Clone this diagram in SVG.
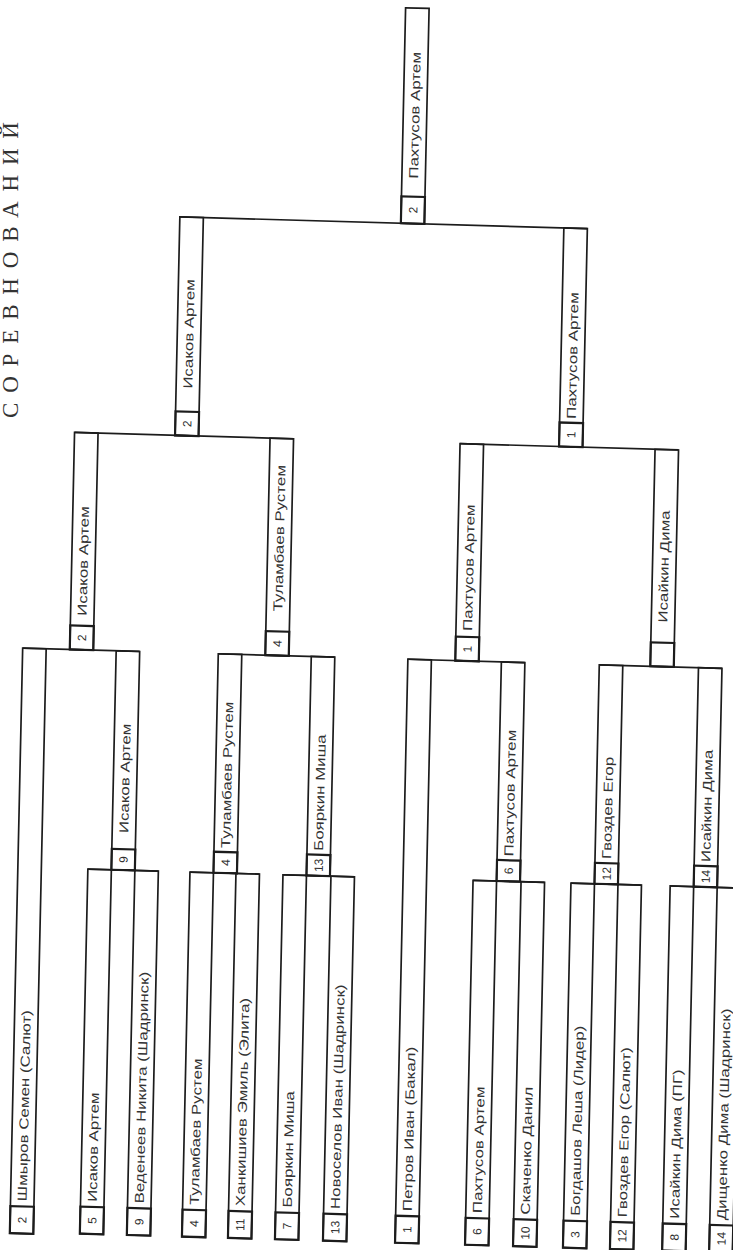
<svg xmlns="http://www.w3.org/2000/svg" width="733" height="1250" viewBox="0 0 733 1250">
<style>
.b{fill:none;stroke:#1c1c1c;stroke-width:1.7}
.c{fill:none;stroke:#1c1c1c;stroke-width:2.2}
.l{stroke:#1c1c1c;stroke-width:1.7;fill:none}
.t{font-family:"Liberation Sans",Arial,sans-serif;font-size:13px;fill:#333}
.n{font-family:"Liberation Sans",Arial,sans-serif;font-size:12px;fill:#2e2e2e;text-anchor:middle}
.h{font-family:"Liberation Serif","Times New Roman",serif;font-size:23px;fill:#333}
</style>
<rect width="733" height="1250" fill="#fff"/>
<text class="h" transform="translate(18,418) rotate(-90)" textLength="296" lengthAdjust="spacing">СОРЕВНОВАНИЙ</text>
<g transform="matrix(1,0.029,-0.022,1,13.75,-10.6)">
<g id="connectors">
<line class="l" x1="171" y1="222.5" x2="578.5" y2="222.5"/>
<line class="l" x1="70.5" y1="441" x2="289.5" y2="441"/>
<line class="l" x1="456" y1="441" x2="674.5" y2="441"/>
<line class="l" x1="23.4" y1="658" x2="140.4" y2="658"/>
<line class="l" x1="219" y1="658" x2="335.5" y2="658"/>
<line class="l" x1="408.6" y1="658" x2="525.6" y2="658"/>
<line class="l" x1="600" y1="658" x2="722.7" y2="658"/>
<line class="l" x1="93.4" y1="877" x2="163.9" y2="877"/>
<line class="l" x1="195.5" y1="877" x2="265" y2="877"/>
<line class="l" x1="288.5" y1="877" x2="360" y2="877"/>
<line class="l" x1="478.6" y1="877" x2="550.1" y2="877"/>
<line class="l" x1="576.5" y1="877" x2="647" y2="877"/>
<line class="l" x1="675.7" y1="877" x2="745.5" y2="877"/>
</g>
<g id="final">
<rect class="b" x="392" y="7" width="23.5" height="215.5"/>
<rect class="c" x="392" y="195.5" width="23.5" height="27"/>
<text class="n" transform="translate(408.1,209) rotate(-90)">2</text>
<text class="t" transform="translate(408.1,177.5) rotate(-90) scale(1.3,1)">Пахтусов Артем</text>
</g>
<g id="r4-isakov">
<rect class="b" x="171" y="222.5" width="23.5" height="218.5"/>
<rect class="c" x="171" y="417" width="23.5" height="24"/>
<text class="n" transform="translate(187.1,429) rotate(-90)">2</text>
<text class="t" transform="translate(187.1,394) rotate(-90) scale(1.3,1)">Исаков Артем</text>
</g>
<g id="r4-pakhtusov">
<rect class="b" x="555" y="222.5" width="23.5" height="218.5"/>
<rect class="c" x="555" y="417" width="23.5" height="24"/>
<text class="n" transform="translate(571.1,429) rotate(-90)">1</text>
<text class="t" transform="translate(571.1,413) rotate(-90) scale(1.3,1)">Пахтусов Артем</text>
</g>
<g id="r3-isakov">
<rect class="b" x="70.5" y="441" width="23.5" height="217"/>
<rect class="c" x="70.5" y="634" width="23.5" height="24"/>
<text class="n" transform="translate(86.6,646) rotate(-90)">2</text>
<text class="t" transform="translate(86.6,624) rotate(-90) scale(1.3,1)">Исаков Артем</text>
</g>
<g id="r3-tulambaev">
<rect class="b" x="266" y="441" width="23.5" height="217"/>
<rect class="c" x="266" y="634" width="23.5" height="24"/>
<text class="n" transform="translate(282.1,646) rotate(-90)">4</text>
<text class="t" transform="translate(282.1,614) rotate(-90) scale(1.3,1)">Туламбаев Рустем</text>
</g>
<g id="r3-pakhtusov">
<rect class="b" x="456" y="441" width="23.5" height="217"/>
<rect class="c" x="456" y="634" width="23.5" height="24"/>
<text class="n" transform="translate(472.1,646) rotate(-90)">1</text>
<text class="t" transform="translate(472.1,628) rotate(-90) scale(1.3,1)">Пахтусов Артем</text>
</g>
<g id="r3-isaykin">
<rect class="b" x="651" y="441" width="23.5" height="217"/>
<rect class="c" x="651" y="634" width="23.5" height="24"/>
<text class="t" transform="translate(667.1,614) rotate(-90) scale(1.3,1)">Исайкин Дима</text>
</g>
<g id="r2-isakov">
<rect class="b" x="116.9" y="658" width="23.5" height="219"/>
<rect class="c" x="116.9" y="856" width="23.5" height="21"/>
<text class="n" transform="translate(133,866.5) rotate(-90)">9</text>
<text class="t" transform="translate(133,840) rotate(-90) scale(1.3,1)">Исаков Артем</text>
</g>
<g id="r2-tulambaev">
<rect class="b" x="219" y="658" width="23.5" height="219"/>
<rect class="c" x="219" y="856" width="23.5" height="21"/>
<text class="n" transform="translate(235.1,866.5) rotate(-90)">4</text>
<text class="t" transform="translate(235.1,852) rotate(-90) scale(1.3,1)">Туламбаев Рустем</text>
</g>
<g id="r2-boyarkin">
<rect class="b" x="312" y="658" width="23.5" height="219"/>
<rect class="c" x="312" y="856" width="23.5" height="21"/>
<text class="n" transform="translate(328.1,866.5) rotate(-90)">13</text>
<text class="t" transform="translate(328.1,852) rotate(-90) scale(1.3,1)">Бояркин Миша</text>
</g>
<g id="r2-pakhtusov">
<rect class="b" x="502.1" y="658" width="23.5" height="219"/>
<rect class="c" x="502.1" y="856" width="23.5" height="21"/>
<text class="n" transform="translate(518.2,866.5) rotate(-90)">6</text>
<text class="t" transform="translate(518.2,852) rotate(-90) scale(1.3,1)">Пахтусов Артем</text>
</g>
<g id="r2-gvozdev">
<rect class="b" x="600" y="658" width="23.5" height="219"/>
<rect class="c" x="600" y="856" width="23.5" height="21"/>
<text class="n" transform="translate(616.1,866.5) rotate(-90)">12</text>
<text class="t" transform="translate(616.1,852) rotate(-90) scale(1.3,1)">Гвоздев Егор</text>
</g>
<g id="r2-isaykin">
<rect class="b" x="699.2" y="658" width="23.5" height="219"/>
<rect class="c" x="699.2" y="856" width="23.5" height="21"/>
<text class="n" transform="translate(715.3,866.5) rotate(-90)">14</text>
<text class="t" transform="translate(715.3,852) rotate(-90) scale(1.3,1)">Исайкин Дима</text>
</g>
<g id="p2">
<rect class="b" x="23.4" y="658" width="23.5" height="585"/>
<rect class="c" x="23.4" y="1216" width="23.5" height="27"/>
<text class="n" transform="translate(39.5,1229.5) rotate(-90)">2</text>
<text class="t" transform="translate(39.5,1211) rotate(-90) scale(1.3,1)">Шмыров Семен (Салют)</text>
</g>
<g id="p5">
<rect class="b" x="93.4" y="877" width="23.5" height="364.5"/>
<rect class="c" x="93.4" y="1214.5" width="23.5" height="27"/>
<text class="n" transform="translate(109.5,1228) rotate(-90)">5</text>
<text class="t" transform="translate(109.5,1209.5) rotate(-90) scale(1.3,1)">Исаков Артем</text>
</g>
<g id="p9">
<rect class="b" x="140.4" y="877" width="23.5" height="364.5"/>
<rect class="c" x="140.4" y="1214.5" width="23.5" height="27"/>
<text class="n" transform="translate(156.5,1228) rotate(-90)">9</text>
<text class="t" transform="translate(156.5,1209.5) rotate(-90) scale(1.3,1)">Веденеев Никита (Шадринск)</text>
</g>
<g id="p4">
<rect class="b" x="195.5" y="877" width="23.5" height="364.5"/>
<rect class="c" x="195.5" y="1214.5" width="23.5" height="27"/>
<text class="n" transform="translate(211.6,1228) rotate(-90)">4</text>
<text class="t" transform="translate(211.6,1209.5) rotate(-90) scale(1.3,1)">Туламбаев Рустем</text>
</g>
<g id="p11">
<rect class="b" x="241.5" y="877" width="23.5" height="364.5"/>
<rect class="c" x="241.5" y="1214.5" width="23.5" height="27"/>
<text class="n" transform="translate(257.6,1228) rotate(-90)">11</text>
<text class="t" transform="translate(257.6,1209.5) rotate(-90) scale(1.3,1)">Ханкишиев Эмиль (Элита)</text>
</g>
<g id="p7">
<rect class="b" x="288.5" y="877" width="23.5" height="364.5"/>
<rect class="c" x="288.5" y="1214.5" width="23.5" height="27"/>
<text class="n" transform="translate(304.6,1228) rotate(-90)">7</text>
<text class="t" transform="translate(304.6,1209.5) rotate(-90) scale(1.3,1)">Бояркин Миша</text>
</g>
<g id="p13">
<rect class="b" x="336.5" y="877" width="23.5" height="364.5"/>
<rect class="c" x="336.5" y="1214.5" width="23.5" height="27"/>
<text class="n" transform="translate(352.6,1228) rotate(-90)">13</text>
<text class="t" transform="translate(352.6,1209.5) rotate(-90) scale(1.3,1)">Новоселов Иван (Шадринск)</text>
</g>
<g id="p1">
<rect class="b" x="408.6" y="658" width="23.5" height="583.5"/>
<rect class="c" x="408.6" y="1214.5" width="23.5" height="27"/>
<text class="n" transform="translate(424.7,1228) rotate(-90)">1</text>
<text class="t" transform="translate(424.7,1209.5) rotate(-90) scale(1.3,1)">Петров Иван (Бакал)</text>
</g>
<g id="p6">
<rect class="b" x="478.6" y="877" width="23.5" height="364.5"/>
<rect class="c" x="478.6" y="1214.5" width="23.5" height="27"/>
<text class="n" transform="translate(494.7,1228) rotate(-90)">6</text>
<text class="t" transform="translate(494.7,1209.5) rotate(-90) scale(1.3,1)">Пахтусов Артем</text>
</g>
<g id="p10">
<rect class="b" x="526.6" y="877" width="23.5" height="364.5"/>
<rect class="c" x="526.6" y="1214.5" width="23.5" height="27"/>
<text class="n" transform="translate(542.7,1228) rotate(-90)">10</text>
<text class="t" transform="translate(542.7,1209.5) rotate(-90) scale(1.3,1)">Скаченко Данил</text>
</g>
<g id="p3">
<rect class="b" x="576.5" y="877" width="23.5" height="364.5"/>
<rect class="c" x="576.5" y="1214.5" width="23.5" height="27"/>
<text class="n" transform="translate(592.6,1228) rotate(-90)">3</text>
<text class="t" transform="translate(592.6,1209.5) rotate(-90) scale(1.3,1)">Богдашов  Леша (Лидер)</text>
</g>
<g id="p12">
<rect class="b" x="623.5" y="877" width="23.5" height="364.5"/>
<rect class="c" x="623.5" y="1214.5" width="23.5" height="27"/>
<text class="n" transform="translate(639.6,1228) rotate(-90)">12</text>
<text class="t" transform="translate(639.6,1209.5) rotate(-90) scale(1.3,1)">Гвоздев Егор (Салют)</text>
</g>
<g id="p8">
<rect class="b" x="675.7" y="877" width="23.5" height="364.5"/>
<rect class="c" x="675.7" y="1214.5" width="23.5" height="27"/>
<text class="n" transform="translate(691.8,1228) rotate(-90)">8</text>
<text class="t" transform="translate(691.8,1209.5) rotate(-90) scale(1.3,1)">Исайкин Дима (ПГ)</text>
</g>
<g id="p14">
<rect class="b" x="722.7" y="877" width="23.5" height="364.5"/>
<rect class="c" x="722.7" y="1214.5" width="23.5" height="27"/>
<text class="n" transform="translate(738.8,1228) rotate(-90)">14</text>
<text class="t" transform="translate(738.8,1209.5) rotate(-90) scale(1.3,1)">Дищенко Дима (Шадринск)</text>
</g>
</g>
</svg>
